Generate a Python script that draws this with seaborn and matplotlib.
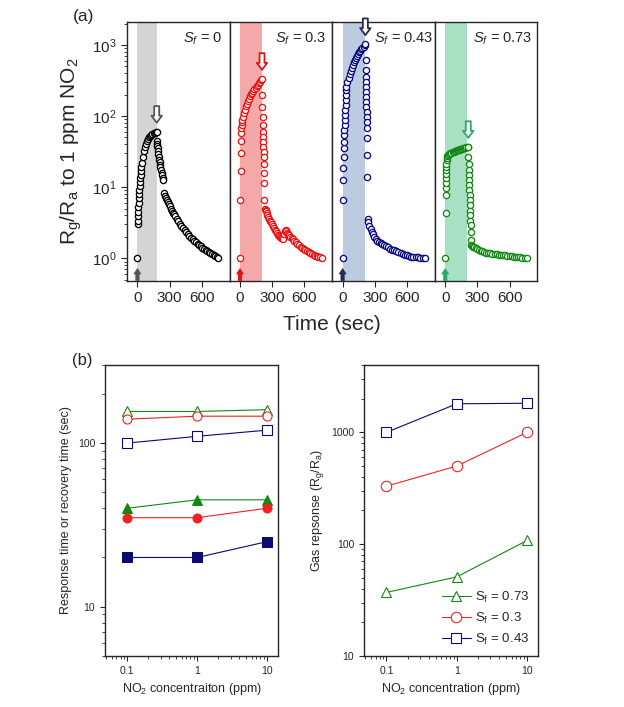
import matplotlib
matplotlib.use('Agg')
import matplotlib.pyplot as plt
from matplotlib.ticker import FuncFormatter, NullFormatter, LogLocator
import seaborn as sns

# ---- (a) transient response to 1 ppm NO2, one pair of lists per panel ----
t_sf0 = [0, 2, 4, 6, 8, 10, 12, 14, 16, 18, 20, 23, 26, 29, 32, 36,
         40, 50, 60, 70, 80, 90, 100, 110, 120, 130, 140, 150, 160, 170, 180,
         182, 184, 186, 189, 192, 195, 199, 203, 207, 211, 215, 220, 225, 230, 236, 242,
         250, 258, 266, 274, 282, 290, 300, 310, 320, 330, 340, 350, 365, 380, 395, 410,
         425, 440, 455, 470, 485, 500, 515, 530, 545, 560, 575, 590, 605, 620, 635, 650,
         665, 680, 695, 710, 725, 740, 755]
r_sf0 = [1.0, 3.0, 3.4, 3.9, 4.5, 5.2, 6.0, 7.0, 8.0, 9.2, 10.5, 12.0, 13.5, 15.0, 17.0, 19.0,
         22, 27, 32, 37, 41, 44, 47, 50, 52, 54, 56, 57.5, 58.5, 59.5, 60.5,
         45, 41, 38, 35, 32, 29.5, 27, 24.5, 22.5, 20.5, 19, 17.5, 16, 14.8, 13.6, 12.5,
         8.2, 7.6, 7.1, 6.6, 6.2, 5.8, 5.4, 5.0, 4.7, 4.4, 4.15, 3.9, 3.6, 3.3, 3.05, 2.85,
         2.65, 2.47, 2.32, 2.18, 2.06, 1.95, 1.85, 1.76, 1.68, 1.6, 1.53, 1.47, 1.41, 1.36,
         1.31, 1.26, 1.22, 1.18, 1.14, 1.10, 1.07, 1.04, 1.01]

t_sf03 = [0, 3, 5, 7, 9, 11, 13, 15, 17, 19,
          25, 35, 45, 55, 65, 75, 85, 95, 105, 115, 125, 135, 145, 155, 165, 175, 185, 195, 205,
          207, 208, 210, 211, 213, 214, 216, 217, 219, 220, 222, 224, 226, 228,
          232, 238, 244, 250, 256, 262, 268, 276, 285, 295, 305, 315, 325, 335, 345, 355, 365,
          375, 385, 395, 405,
          412, 418, 425, 432, 440, 450, 460, 470, 480, 490, 505, 520, 535, 550, 565, 580, 595,
          610, 625, 640, 655, 670, 685, 700, 715, 730, 745, 760]
r_sf03 = [1.0, 6.7, 17, 30, 45, 57, 67, 75, 82, 88,
          98, 110, 123, 137, 150, 163, 176, 189, 201, 213, 225, 237, 249, 261, 274, 288, 302, 318, 335,
          198, 135, 98, 75, 60, 51, 43, 37, 31, 27, 21.5, 15.6, 11.3, 6.6,
          5.0, 4.8, 4.6, 4.4, 4.1, 3.85, 3.6, 3.4, 3.2, 3.0, 2.82, 2.66, 2.52, 2.39, 2.27, 2.16, 2.07,
          2.0, 1.95, 1.9, 1.88,
          2.2, 2.45, 2.5, 2.4, 2.3, 2.2, 2.1, 2.0, 1.92, 1.85, 1.76, 1.67, 1.59, 1.52, 1.46, 1.40, 1.35,
          1.30, 1.26, 1.22, 1.18, 1.15, 1.12, 1.09, 1.07, 1.05, 1.03, 1.02]

t_sf043 = [0, 3, 5, 7, 9, 11, 13, 15, 17, 19, 21, 23, 25, 27, 29, 31, 33, 35,
           45, 55, 65, 75, 85, 95, 105, 115, 125, 135, 145, 155, 165, 175, 185, 195, 205, 212,
           214, 215, 216, 217, 218, 219, 220, 221, 222, 223, 224, 225, 226, 227, 228, 229,
           232, 240, 250, 260, 270, 280, 295, 310, 325, 340, 355, 370, 385, 400,
           420, 440, 460, 480, 500, 520, 540, 560, 580, 600, 620, 640, 660, 680, 700, 720, 745, 765]
r_sf043 = [1.0, 6.6, 12.5, 18.7, 26.7, 35, 43.5, 54, 63, 75, 88, 103, 121, 143, 168, 198, 232, 260,
           300, 345, 390, 435, 480, 525, 570, 615, 660, 705, 750, 790, 830, 870, 910, 950, 990, 1030,
           615, 443, 357, 303, 260, 219, 187, 159, 135, 115, 98, 83, 67, 48.5, 28.2, 14,
           3.6, 3.2, 2.85, 2.55, 2.35, 2.2, 2.0, 1.85, 1.78, 1.72, 1.66, 1.6, 1.54, 1.48,
           1.42, 1.37, 1.33, 1.29, 1.25, 1.21, 1.18, 1.15, 1.12, 1.10, 1.08, 1.06, 1.05, 1.04, 1.03, 1.02,
           1.01, 1.0]

t_sf073 = [0, 3, 5, 6, 7, 8, 9, 10, 11, 12, 13,
           16, 20, 28, 38, 48, 58, 68, 78, 88, 98, 108, 118, 128, 138, 148, 158, 168, 178, 188, 198, 208, 215,
           216, 218, 219, 221, 222, 224, 225, 227, 228, 230, 231, 233, 234, 236, 238, 240,
           244, 252, 262, 272, 285, 300, 315, 330, 345, 360,
           380, 400, 420, 440, 460, 480, 500, 520, 540, 560, 580, 600, 620, 640, 660, 680, 700, 720, 745, 765]
r_sf073 = [1.0, 4.35, 7.7, 9.6, 11.3, 13.3, 15.2, 17.4, 19.4, 21.5, 24,
           26, 27.5, 28.5, 29.3, 29.8, 30.3, 30.8, 31.3, 31.8, 32.3, 32.8, 33.2, 33.7, 34.1, 34.5, 34.9,
           35.3, 35.7, 36.1, 36.5, 36.8, 37,
           26.7, 21.5, 17.7, 14.7, 12.5, 10.7, 9.1, 7.7, 6.6, 5.6, 4.7, 4.0, 3.4, 2.9, 2.35, 1.8,
           1.52, 1.48, 1.45, 1.42, 1.38, 1.34, 1.31, 1.28, 1.25, 1.22,
           1.20, 1.18, 1.17, 1.16, 1.15, 1.14, 1.13, 1.12, 1.11, 1.10, 1.09, 1.08, 1.07, 1.06, 1.05, 1.04,
           1.03, 1.02, 1.01, 1.0]

sf_labels = ['0', '0.3', '0.43', '0.73']
exposure_end = [183, 205, 210, 205]   # gas-on window (sec)

# ---- (b) concentration dependence ----
conc = [0.1, 1, 10]
recovery_073 = [156, 156, 160]
recovery_03 = [140, 146, 146]
recovery_043 = [100, 110, 120]
response_073 = [40, 45, 45]
response_03 = [35, 35, 40]
response_043 = [20, 20, 25]
gas_073 = [37, 51, 108]
gas_03 = [330, 500, 1000]
gas_043 = [1000, 1800, 1820]

sns.set_style('ticks')
plt.rcParams['font.family'] = ['Liberation Sans', 'DejaVu Sans']
plt.rcParams['mathtext.fontset'] = 'custom'
plt.rcParams['mathtext.rm'] = 'Liberation Sans'
plt.rcParams['mathtext.it'] = 'Liberation Sans:italic'
plt.rcParams['axes.linewidth'] = 1.0

fig = plt.figure(figsize=(6.24, 7.07), dpi=100)

curve_colors = ['#000000', '#ee1111', '#0a0a80', '#118811']
shade_colors = ['#d4d4d4', '#f5a8a8', '#bccbe0', '#a8e0c4']
arrow_colors = ['#555555', '#e01515', '#22304e', '#2aaa6a']
text_x = [0.93, 0.94, 0.99, 0.95]
series = [(t_sf0, r_sf0), (t_sf03, r_sf03), (t_sf043, r_sf043), (t_sf073, r_sf073)]

left, width, bottom, height = 127 / 624, 102.6 / 624, 1 - 281 / 707, 259 / 707
axes_a = []
for i, (t, r) in enumerate(series):
    ax = fig.add_axes([left + i * width, bottom, width, height])
    ax.set_yscale('log')
    ax.axvspan(0, exposure_end[i], color=shade_colors[i], lw=0, zorder=0)
    sns.scatterplot(x=t, y=r, ax=ax, marker='o', s=20, color='white',
                    edgecolor=curve_colors[i], linewidth=0.95, zorder=3)
    ax.set_xlim(-97, 859)
    ax.set_ylim(0.48, 2100)
    ax.set_xticks([0, 300, 600])
    ax.tick_params(axis='x', labelsize=11, direction='out', length=4, pad=3)
    if i == 0:
        ax.tick_params(axis='y', which='major', labelsize=11, direction='out', length=4)
        ax.tick_params(axis='y', which='minor', direction='out', length=2.5)
        ax.set_ylabel('R$_\\mathrm{g}$/R$_\\mathrm{a}$ to 1 ppm NO$_2$', fontsize=15, labelpad=6)
    else:
        ax.tick_params(axis='y', which='both', left=False, labelleft=False)
    ax.text(text_x[i], 0.965, '$S_f$ = ' + sf_labels[i], transform=ax.transAxes,
            ha='right', va='top', fontsize=10.5)
    # gas-in arrow at t = 0 and outline arrow above the peak
    ax.annotate('', xy=(t[0], r[0] * 0.8), xytext=(t[0], 0.44),
                arrowprops=dict(arrowstyle='simple,head_length=0.45,head_width=0.6,tail_width=0.3',
                                mutation_scale=10, color=arrow_colors[i], lw=0),
                annotation_clip=False, zorder=4)
    k = r.index(max(r))
    ax.annotate('', xy=(t[k], r[k] * 1.22), xytext=(t[k], r[k] * 2.5),
                arrowprops=dict(arrowstyle='simple,head_length=0.5,head_width=0.75,tail_width=0.36',
                                mutation_scale=10, fc='white', ec=arrow_colors[i], lw=1.3),
                annotation_clip=False, zorder=5)
    ax.set_xlabel('')
    axes_a.append(ax)

fig.text(left + 2 * width, 1 - 325 / 707, 'Time (sec)', ha='center', va='center', fontsize=15)
fig.text(73 / 624, 1 - 16 / 707, '(a)', ha='left', va='center', fontsize=12.5)

# ---- (b) left: response / recovery times ----
fmt = FuncFormatter(lambda v, p: f'{v:g}')
axL = fig.add_axes([105 / 624, 1 - 656 / 707, 173.3 / 624, 291 / 707])
axR = fig.add_axes([364 / 624, 1 - 656 / 707, 174.3 / 624, 291 / 707])
for ax in (axL, axR):
    ax.set_xscale('log')
    ax.set_yscale('log')

green, red, navy = '#118811', '#ee2222', '#0a0a70'
open_sets = [(recovery_073, green, '^'), (recovery_03, red, 'o'), (recovery_043, navy, 's')]
filled_sets = [(response_073, green, '^'), (response_03, red, 'o'), (response_043, navy, 's')]
for vals, c, m in open_sets:
    sns.lineplot(x=conc, y=vals, ax=axL, color=c, marker=m, markersize=6.5,
                 markerfacecolor='white', markeredgecolor=c, markeredgewidth=0.8, linewidth=0.8)
for vals, c, m in filled_sets:
    sns.lineplot(x=conc, y=vals, ax=axL, color=c, marker=m, markersize=6.5,
                 markerfacecolor=c, markeredgecolor=c, linewidth=0.8)
axL.set_ylim(5, 300)
axL.set_ylabel('Response time or recovery time (sec)', fontsize=9)
axL.set_xlabel('NO$_2$ concentraiton (ppm)', fontsize=9)

gas_sets = [(gas_073, green, '^', '0.73'), (gas_03, red, 'o', '0.3'), (gas_043, navy, 's', '0.43')]
for vals, c, m, lab in gas_sets:
    sns.lineplot(x=conc, y=vals, ax=axR, color=c, marker=m, markersize=7.5,
                 markerfacecolor='white', markeredgecolor=c, markeredgewidth=0.8, linewidth=0.8,
                 label='S$_\\mathrm{f}$ = ' + lab)
axR.set_ylim(10, 4000)
axR.set_ylabel('Gas repsonse (R$_\\mathrm{g}$/R$_\\mathrm{a}$)', fontsize=9)
axR.set_xlabel('NO$_2$ concentration (ppm)', fontsize=9)
axR.legend(loc='lower right', frameon=False, fontsize=9.5, handlelength=2.2,
           handletextpad=0.3, labelspacing=0.45, borderaxespad=0.3)

for ax in (axL, axR):
    ax.set_xlim(0.048, 14.4)
    ax.set_xticks([0.1, 1, 10])
    ax.xaxis.set_major_formatter(fmt)
    ax.yaxis.set_major_formatter(fmt)
    ax.xaxis.set_minor_locator(LogLocator(base=10, subs=range(2, 10)))
    ax.yaxis.set_minor_locator(LogLocator(base=10, subs=range(2, 10)))
    ax.xaxis.set_minor_formatter(NullFormatter())
    ax.yaxis.set_minor_formatter(NullFormatter())
    ax.tick_params(which='major', labelsize=7.5, direction='out', length=3.5)
    ax.tick_params(which='minor', direction='out', length=2)

fig.text(72 / 624, 1 - 361 / 707, '(b)', ha='left', va='center', fontsize=12)

fig.savefig('out.png', dpi=100)
